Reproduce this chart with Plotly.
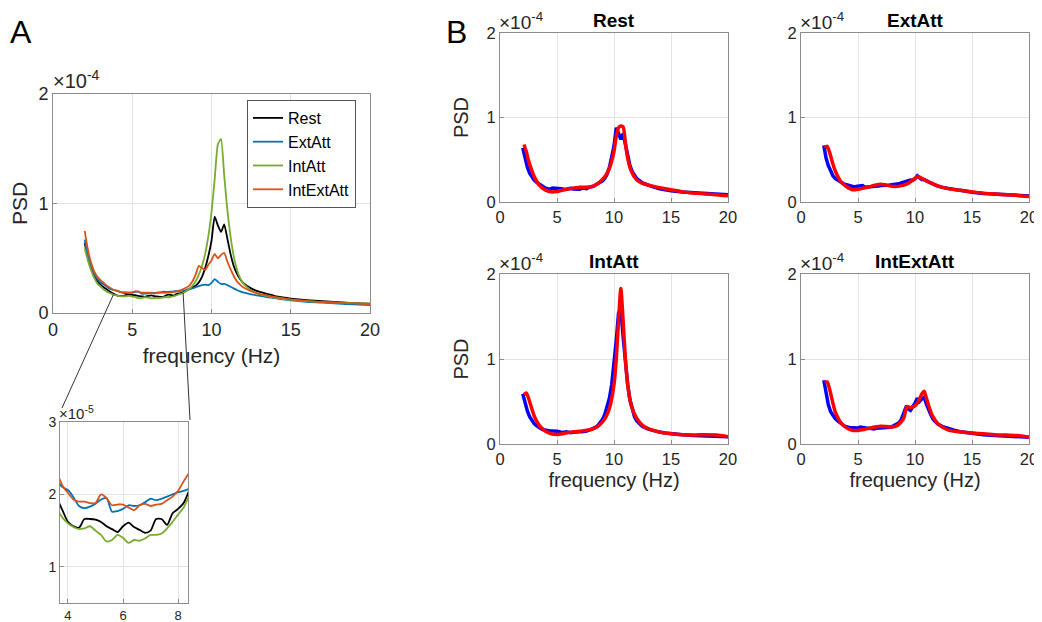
import plotly.graph_objects as go

# ---------------- data (PSD in units of 1e-5) ----------------
freq = [2.0, 2.2, 2.4, 2.6, 2.8, 3.0, 3.2, 3.4, 3.6, 3.8, 4.0, 4.2, 4.4, 4.6, 4.8,
        5.0, 5.2, 5.4, 5.6, 5.8, 6.0, 6.2, 6.4, 6.6, 6.8, 7.0, 7.2, 7.4, 7.6, 7.8,
        8.0, 8.2, 8.4, 8.6, 8.8, 9.0, 9.2, 9.4, 9.6, 9.8, 10.0, 10.2, 10.4, 10.6,
        10.8, 11.0, 11.2, 11.4, 11.6, 11.8, 12.0, 12.5, 13.0, 13.5, 14.0, 14.5,
        15.0, 16.0, 17.0, 18.0, 19.0, 20.0]

rest = [6.4, 5.0, 4.1, 3.4, 2.9, 2.6, 2.35, 2.15, 1.95, 1.78, 1.62, 1.56, 1.54, 1.66, 1.66,
        1.65, 1.62, 1.56, 1.52, 1.48, 1.56, 1.61, 1.55, 1.51, 1.47, 1.50, 1.66, 1.66, 1.58, 1.74,
        1.80, 1.88, 2.05, 2.2, 2.35, 2.5, 2.8, 3.3, 4.1, 5.2, 6.6, 8.8, 8.0, 7.4,
        8.1, 6.8, 5.4, 4.3, 3.6, 3.1, 2.75, 2.25, 1.95, 1.75, 1.55, 1.42,
        1.32, 1.18, 1.08, 0.98, 0.9, 0.85]

extatt = [6.7, 5.2, 4.3, 3.6, 3.1, 2.8, 2.6, 2.4, 2.2, 2.10, 2.06, 1.96, 1.84, 1.81, 1.83,
          1.87, 1.93, 1.95, 1.76, 1.77, 1.80, 1.85, 1.84, 1.85, 1.89, 1.94, 1.92, 1.94, 1.97, 2.0,
          2.03, 2.05, 2.08, 2.15, 2.25, 2.35, 2.45, 2.55, 2.6, 2.55, 2.75, 3.1, 2.85, 2.65,
          2.65, 2.55, 2.4, 2.25, 2.1, 1.98, 1.88, 1.7, 1.58, 1.45, 1.35, 1.25,
          1.15, 1.02, 0.95, 0.85, 0.78, 0.72]

intatt = [5.9, 4.8, 3.9, 3.2, 2.7, 2.4, 2.15, 1.95, 1.8, 1.68, 1.60, 1.55, 1.52, 1.53, 1.56,
          1.50, 1.44, 1.35, 1.37, 1.44, 1.40, 1.33, 1.37, 1.36, 1.39, 1.44, 1.44, 1.46, 1.53, 1.62,
          1.72, 1.82, 1.98, 2.2, 2.5, 2.9, 3.5, 4.3, 5.4, 7.0, 9.2, 12.2, 15.4, 15.9,
          12.6, 9.4, 7.0, 5.2, 4.0, 3.2, 2.7, 2.05, 1.75, 1.55, 1.4, 1.3,
          1.2, 1.08, 1.0, 0.95, 0.9, 0.85]

intextatt = [7.5, 5.8, 4.6, 3.8, 3.3, 3.0, 2.75, 2.5, 2.3, 2.12, 2.02, 1.93, 1.90, 1.90, 1.88,
             1.88, 2.0, 1.95, 1.85, 1.86, 1.86, 1.82, 1.78, 1.85, 1.87, 1.84, 1.86, 1.87, 1.92, 1.97,
             2.05, 2.18, 2.3, 2.5, 2.9, 3.5, 4.3, 4.1, 3.95, 4.4, 4.8, 5.4, 5.0, 5.3,
             5.5, 4.7, 4.0, 3.4, 2.9, 2.6, 2.35, 2.0, 1.75, 1.6, 1.45, 1.35,
             1.25, 1.1, 1.0, 0.93, 0.87, 0.8]

# model fits (panel B, red), PSD in units of 1e-5
fit_freq = [2.1, 2.3, 2.5, 2.8, 3.0, 3.5, 4.0, 4.5, 5.0, 5.5, 6.0, 6.5, 7.0, 7.5, 8.0, 8.5,
            9.0, 9.3, 9.6, 10.0, 10.2, 10.4, 10.6, 10.8, 11.0, 11.2, 11.5, 12.0, 12.5, 13.0,
            14.0, 15.0, 16.0, 17.0, 18.0, 19.0, 20.0]
fit_rest = [6.8, 6.0, 4.9, 3.7, 3.0, 1.9, 1.4, 1.2, 1.25, 1.4, 1.55, 1.65, 1.75, 1.75, 1.8, 2.1,
            2.7, 3.2, 4.0, 6.0, 7.8, 8.8, 9.0, 8.9, 7.0, 5.2, 3.7, 2.6, 2.2, 2.0,
            1.7, 1.45, 1.2, 1.05, 0.95, 0.87, 0.75]
fit_extatt = [6.4, 6.6, 5.9, 4.5, 3.7, 2.4, 1.8, 1.45, 1.5, 1.65, 1.8, 2.0, 2.1, 2.0, 1.85, 1.85,
              2.0, 2.15, 2.4, 2.8, 3.0, 2.95, 2.8, 2.65, 2.5, 2.35, 2.2, 1.9, 1.7, 1.55,
              1.38, 1.2, 1.05, 0.95, 0.85, 0.78, 0.65]
fit_intatt = [5.8, 6.0, 5.4, 4.1, 3.3, 2.1, 1.5, 1.2, 1.12, 1.2, 1.35, 1.45, 1.5, 1.6, 1.7, 2.0,
              2.6, 3.2, 4.2, 7.0, 10.0, 14.5, 18.3, 14.5, 10.0, 7.0, 4.6, 3.0, 2.2, 1.8,
              1.4, 1.2, 1.1, 1.05, 1.1, 1.05, 0.85]
fit_intextatt = [7.2, 7.3, 6.5, 4.8, 3.8, 2.5, 1.9, 1.6, 1.6, 1.7, 1.85, 2.0, 2.1, 2.05, 2.0, 2.2,
                 3.0, 4.4, 4.3, 4.5, 4.8, 5.3, 5.9, 6.2, 5.4, 4.5, 3.4, 2.4, 1.9, 1.6,
                 1.4, 1.3, 1.2, 1.1, 1.05, 1.0, 0.8]

conditions = ["Rest", "ExtAtt", "IntAtt", "IntExtAtt"]
colors_A = ["#000000", "#0072BD", "#77AC30", "#D95319"]
series_A = [rest, extatt, intatt, intextatt]
series_fit = [fit_rest, fit_extatt, fit_intatt, fit_intextatt]

# page has an 8 px body margin: the figure sits at (8, 8) in the window
OFF = 8
W, H = 1042 - OFF, 622 - OFF
FONT = "Liberation Sans, Arial, sans-serif"
TXT = "#262626"
AXC = "#8c8c8c"
GRID = "#e3e3e3"


def px(x):
    return (x - OFF) / W


def py(y):
    return 1 - (y - OFF) / H


fig = go.Figure()

# ---------------- Panel A main ----------------
for name, col, s in zip(conditions, colors_A, series_A):
    fig.add_trace(go.Scatter(x=freq, y=[v / 10 for v in s], mode="lines", name=name,
                             line=dict(color=col, width=1.8, shape="spline", smoothing=0.5),
                             xaxis="x", yaxis="y", showlegend=True))
# ---------------- Panel A inset ----------------
for name, col, s in zip(conditions, colors_A, series_A):
    fig.add_trace(go.Scatter(x=freq, y=s, mode="lines", name=name,
                             line=dict(color=col, width=1.8, shape="spline", smoothing=0.7),
                             xaxis="x2", yaxis="y2", showlegend=False))
# ---------------- Panel B ----------------
for i, (name, s, f) in enumerate(zip(conditions, series_A, series_fit)):
    ax = str(i + 3)
    fig.add_trace(go.Scatter(x=freq, y=[v / 10 for v in s], mode="lines",
                             line=dict(color="#0000FF", width=3.5), xaxis="x" + ax, yaxis="y" + ax,
                             showlegend=False))
    fig.add_trace(go.Scatter(x=fit_freq, y=[v / 10 for v in f], mode="lines",
                             line=dict(color="#FF0000", width=3.5, shape="spline", smoothing=0.6),
                             xaxis="x" + ax, yaxis="y" + ax, showlegend=False))


def axis_style(size, **kw):
    d = dict(showline=True, linecolor=AXC, linewidth=1, mirror=True, ticks="inside",
             ticklen=4, tickcolor=AXC, showgrid=True, gridcolor=GRID, gridwidth=1,
             zeroline=False, automargin=False,
             tickfont=dict(family=FONT, size=size, color=TXT))
    d.update(kw)
    return d


def title(text, size, standoff):
    return dict(text=text, font=dict(size=size, family=FONT, color=TXT), standoff=standoff)


dom_A_x = [px(53), px(370)]
dom_A_y = [py(313), py(94)]
dom_I_x = [px(60), px(188)]
dom_I_y = [py(603), py(422)]
inset_range = [3.71, 8.36]

layout = dict(
    width=W, height=H, margin=dict(l=0, r=0, t=0, b=0, autoexpand=False),
    paper_bgcolor="white", plot_bgcolor="white",
    font=dict(family=FONT, color=TXT),
    xaxis=axis_style(18, domain=dom_A_x, range=[0, 20], tickvals=[0, 5, 10, 15, 20],
                     title=title("frequency (Hz)", 21, 9), anchor="y"),
    yaxis=axis_style(18, domain=dom_A_y, range=[0, 2], tickvals=[0, 1, 2],
                     title=title("PSD", 21, 10), anchor="x"),
    xaxis2=axis_style(13, domain=dom_I_x, range=inset_range, tickvals=[4, 6, 8], anchor="y2",
                      ticklabelstandoff=0),
    yaxis2=axis_style(14, domain=dom_I_y, range=[0.5, 3], tickvals=[1, 2, 3], anchor="x2"),
    legend=dict(x=px(247), y=py(100), xanchor="left", yanchor="top", bgcolor="white",
                bordercolor="#555", borderwidth=1, font=dict(family=FONT, size=16, color="#000"),
                tracegroupgap=0, itemwidth=30),
    showlegend=True,
)

B_x = [[px(500), px(728)], [px(801), px(1029)]]
B_y = [[py(202), py(33)], [py(444), py(274)]]
annotations = []
for i, name in enumerate(conditions):
    r, c = divmod(i, 2)
    ax = str(i + 3)
    xa = axis_style(16.5, domain=B_x[c], range=[0, 20], tickvals=[0, 5, 10, 15, 20], anchor="y" + ax)
    ya = axis_style(16.5, domain=B_y[r], range=[0, 2], tickvals=[0, 1, 2], anchor="x" + ax)
    if r == 1:
        xa["title"] = title("frequency (Hz)", 20, 6)
    if c == 0:
        ya["title"] = title("PSD", 20, 12)
    layout["xaxis" + ax] = xa
    layout["yaxis" + ax] = ya
    annotations.append(dict(text="<b>%s</b>" % name, xref="x%s domain" % ax, yref="y%s domain" % ax,
                            x=0.5, y=1.0, xanchor="center", yanchor="bottom", yshift=0,
                            showarrow=False, font=dict(family=FONT, size=19, color="#000")))
    annotations.append(dict(text="×10<sup>-4</sup>", xref="x%s domain" % ax, yref="y%s domain" % ax,
                            x=0, y=1.0, xanchor="left", yanchor="bottom", xshift=-3, yshift=-2,
                            showarrow=False, font=dict(family=FONT, size=19, color=TXT)))

annotations.append(dict(text="×10<sup>-4</sup>", xref="x domain", yref="y domain", x=0, y=1.0,
                        xanchor="left", yanchor="bottom", xshift=-2, showarrow=False,
                        font=dict(family=FONT, size=20, color=TXT)))
annotations.append(dict(text="×10<sup>-5</sup>", xref="x2 domain", yref="y2 domain", x=0, y=1.0,
                        xanchor="left", yanchor="bottom", xshift=-3, yshift=-2, showarrow=False,
                        font=dict(family=FONT, size=15, color=TXT)))
annotations.append(dict(text="A", xref="paper", yref="paper", x=px(8), y=py(12), xanchor="left",
                        yanchor="top", showarrow=False, font=dict(family=FONT, size=32, color="#000")))
annotations.append(dict(text="B", xref="paper", yref="paper", x=px(444), y=py(12), xanchor="left",
                        yanchor="top", showarrow=False, font=dict(family=FONT, size=32, color="#000")))
layout["annotations"] = annotations


# connector lines from main axes (inset range ends) to inset corners
def a_to_paper(xv, yv):
    xp = dom_A_x[0] + (xv - 0) / 20 * (dom_A_x[1] - dom_A_x[0])
    yp = dom_A_y[0] + (yv - 0) / 2 * (dom_A_y[1] - dom_A_y[0])
    return xp, yp


def val_at(xv, s):
    for k in range(len(freq) - 1):
        if freq[k] <= xv <= freq[k + 1]:
            t = (xv - freq[k]) / (freq[k + 1] - freq[k])
            return (s[k] + t * (s[k + 1] - s[k])) / 10
    return s[-1] / 10


x0l, y0l = a_to_paper(inset_range[0] + 0.1, val_at(inset_range[0] + 0.1, intatt))
x0r, y0r = a_to_paper(inset_range[1] - 0.15, val_at(inset_range[1] - 0.15, intatt))
shapes = [
    dict(type="line", xref="paper", yref="paper", x0=x0l, y0=y0l, x1=px(62), y1=py(408),
         line=dict(color="#333", width=1)),
    dict(type="line", xref="paper", yref="paper", x0=x0r, y0=y0r, x1=px(190), y1=py(420),
         line=dict(color="#333", width=1)),
]
layout["shapes"] = shapes

fig.update_layout(**layout)
fig.write_html("out.html")
